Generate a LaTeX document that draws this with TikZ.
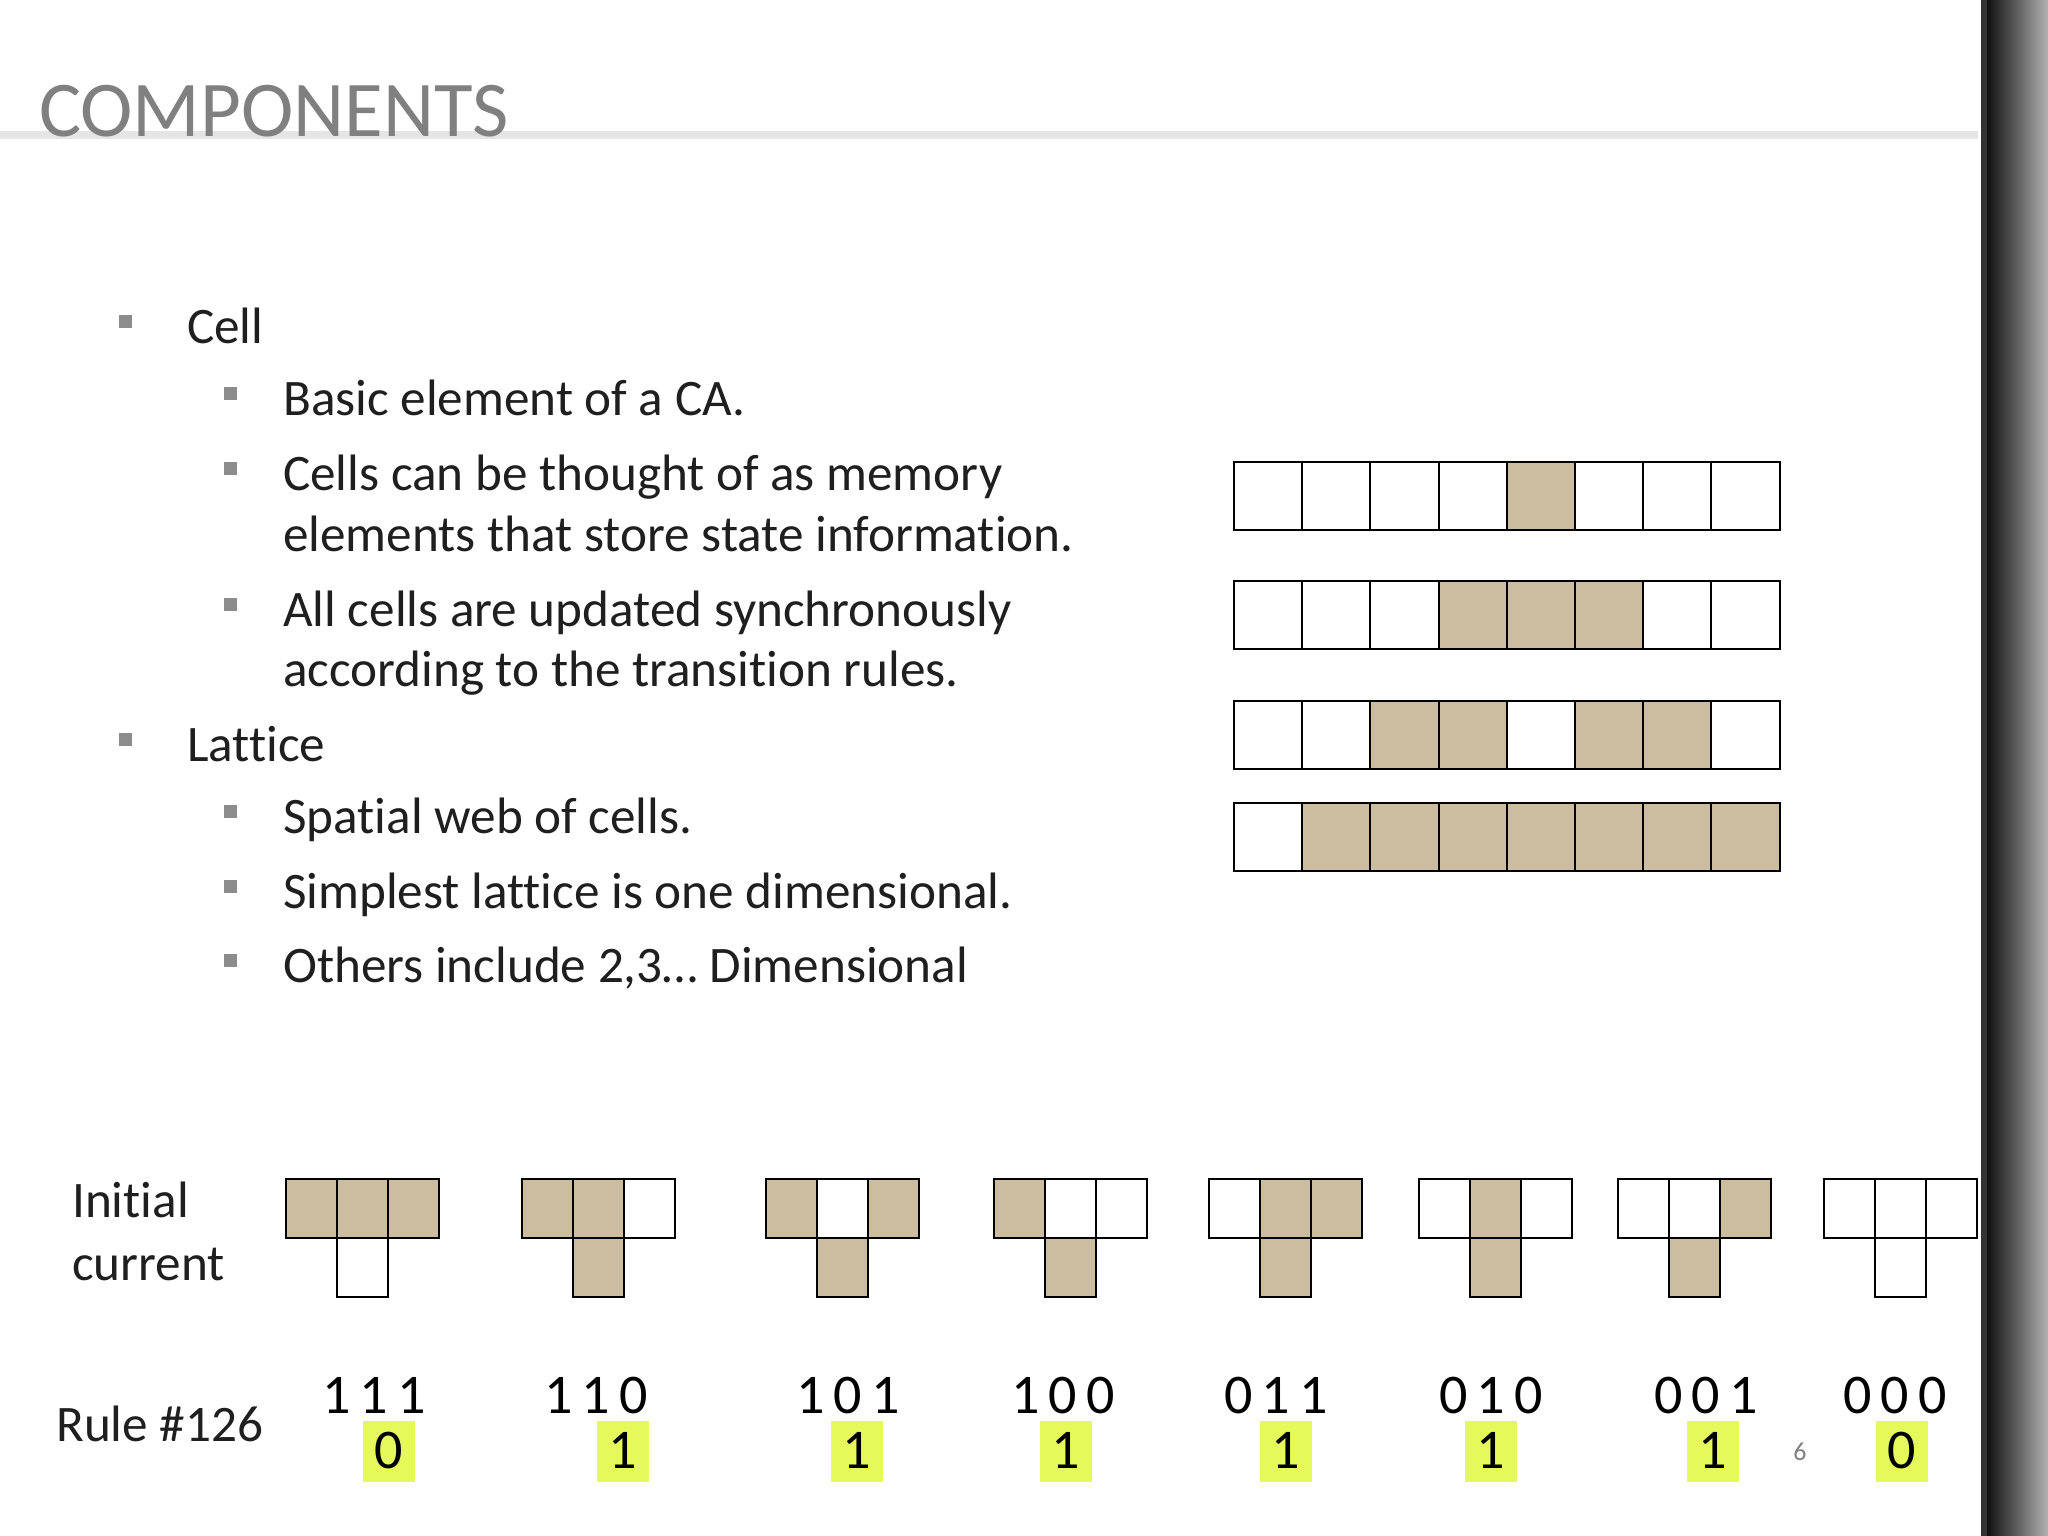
\documentclass[tikz,border=0pt]{standalone}
\usepackage{fontspec}
\setmainfont[Ligatures=NoCommon]{Carlito}
\begin{document}
\begin{tikzpicture}[x=1pt,y=-1pt,
  tan/.style={fill=tanc,draw=black,line width=2pt},
  wht/.style={fill=white,draw=black,line width=2pt},
  btxt/.style={anchor=base west,inner sep=0pt,font=\fontsize{51.2}{60}\selectfont,text=black!88},
  bul/.style={fill=gray!90,draw=none,minimum size=13pt,inner sep=0pt},
  dig/.style={anchor=base,inner sep=0pt,font=\fontsize{56}{60}\selectfont},
  hl/.style={fill=hlc,draw=none,minimum width=52pt,minimum height=61pt,inner sep=0pt}]
\definecolor{tanc}{HTML}{CDBDA0}
\definecolor{hlc}{HTML}{E6F95A}
\useasboundingbox (0,0) rectangle (2048,1536);
\fill[white] (0,0) rectangle (2048,1536);
% right border
\shade[left color=black,right color=gray!60] (1981,0) rectangle (2048,1536);
\fill[black!80] (1981,0) rectangle (1987,1536);
% title
\fill[black!10] (0,131) rectangle (1978,139);
\node[anchor=base west,inner sep=0pt,font=\fontsize{79}{84}\selectfont,text=gray] (title) at (39,137) {COMPONENTS};
% bullets
\foreach \y/\t [count=\i] in {343/Cell,761/Lattice}{
  \node[bul] (b1\i) at (125,\y-22) {};
  \node[btxt] (t1\i) at (187,\y) {\t};
}
\foreach \y/\t [count=\i] in {415/Basic element of a CA.,490/Cells can be thought of as memory,626/All cells are updated synchronously,833/Spatial web of cells.,908/Simplest lattice is one dimensional.,982/Others include 2{,}3… Dimensional}{
  \node[bul] (b2\i) at (230,\y-22) {};
  \node[btxt] (t2\i) at (283,\y) {\t};
}
\node[btxt] (c1) at (283,551) {elements that store state information.};
\node[btxt] (c2) at (283,686) {according to the transition rules.};
% grid rows
\foreach \y/\tanlist [count=\r] in {461/{4},580/{3,4,5},700/{2,3,5,6},802/{1,2,3,4,5,6,7}}{
  \foreach \k in {0,...,7}{
    \node[wht,minimum width=68.2pt,minimum height=68pt,inner sep=0pt,anchor=north west] (g\r-\k) at (1233+68.2*\k,\y) {};
  }
  \foreach \k in \tanlist{
    \node[tan,minimum width=68.2pt,minimum height=68pt,inner sep=0pt,anchor=north west] (f\r-\k) at (1233+68.2*\k,\y) {};
  }
}
% labels
\node[btxt] (init) at (72,1217) {Initial};
\node[btxt] (curr) at (72,1280) {current};
\node[btxt] (rule) at (56,1441) {Rule \#126};
\node[anchor=base,inner sep=0pt,font=\fontsize{26}{30}\selectfont,text=gray] (pg) at (1800,1460) {6};
% T shapes
\foreach \x/\a/\b/\c/\d/\dc/\hc/\lab/\res [count=\n] in
 {285/1/1/1/0/374/389/{1\,1\,1}/0,
  521/1/1/0/1/596/623/{1\,1\,0}/1,
  765/1/0/1/1/848/857/{1\,0\,1}/1,
  993/1/0/0/1/1063/1066/{1\,0\,0}/1,
  1208/0/1/1/1/1276/1286/{0\,1\,1}/1,
  1418/0/1/0/1/1491/1491/{0\,1\,0}/1,
  1617/0/0/1/1/1706/1713/{0\,0\,1}/1,
  1823/0/0/0/0/1895/1902/{0\,0\,0}/0}{
  \foreach \v/\ox/\oy in {\a/0/0,\b/51/0,\c/102/0,\d/51/59}{
    \ifnum\v=1
      \node[tan,minimum width=51pt,minimum height=59pt,inner sep=0pt,anchor=north west] at (\x+\ox,1178+\oy) {};
    \else
      \node[wht,minimum width=51pt,minimum height=59pt,inner sep=0pt,anchor=north west] at (\x+\ox,1178+\oy) {};
    \fi
  }
  \node[dig] (d\n) at (\dc,1413) {\lab};
  \node[hl] (h\n) at (\hc,1451) {};
  \node[dig] (r\n) at (\hc,1468) {\res};
}
\end{tikzpicture}
\end{document}
